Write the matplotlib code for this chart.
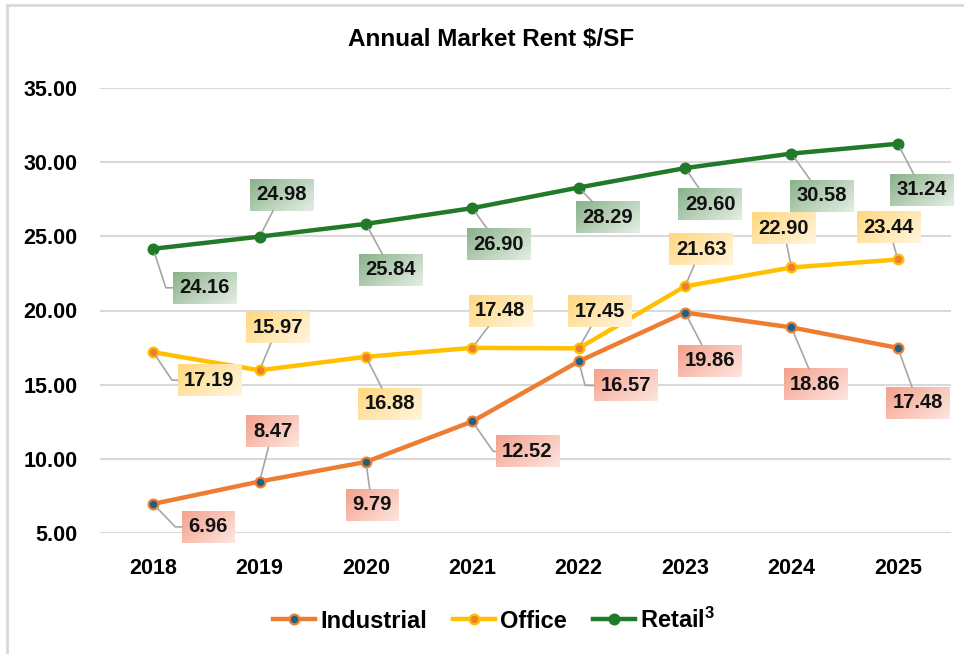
import numpy as np
import matplotlib
matplotlib.use('Agg')
import matplotlib.pyplot as plt
from matplotlib.colors import to_rgb
from matplotlib.lines import Line2D
from matplotlib.patches import Rectangle

# ---------------- data ----------------
years = ['2018', '2019', '2020', '2021', '2022', '2023', '2024', '2025']
industrial = [6.96, 8.47, 9.79, 12.52, 16.57, 19.86, 18.86, 17.48]
office = [17.19, 15.97, 16.88, 17.48, 17.45, 21.63, 22.90, 23.44]
retail = [24.16, 24.98, 25.84, 26.90, 28.29, 29.60, 30.58, 31.24]
yticks = [5, 10, 15, 20, 25, 30, 35]

# label offsets in pixels (dx right, dy down) and elbow angle (None = straight leader)
ind_off = [(55, 23, -46), (13, -50, None), (6, 43, None), (55, 30, -55),
           (47, 24, -75), (25, 48, None), (24, 57, None), (20, 55, None)]
off_off = [(56, 28, -56), (18, -43, None), (24, 47, None), (28, -37, None),
           (21, -37, None), (16, -37, None), (-8, -39, None), (-9, -32, None)]
ret_off = [(51, 39, -72), (22, -42, None), (25, 46, None), (26, 36, None),
           (29, 30, None), (25, 36, None), (30, 42, None), (24, 46, None)]

plt.rcParams['font.family'] = ['Liberation Sans', 'DejaVu Sans']
plt.rcParams['mathtext.default'] = 'regular'

fig = plt.figure(figsize=(9.64, 6.54), dpi=100)
ax = fig.add_axes([100 / 964, 1 - 533 / 654, 851 / 964, 445 / 654])

x = np.arange(len(years))

series = [
    ('Industrial', industrial, '#ED7D31', '#1F6083', '#ED7D31', ind_off, '#F5A08C', '#FDE6E0'),
    ('Office', office, '#FFC000', '#ED7D31', '#FFC000', off_off, '#FFD77F', '#FFF5DE'),
    ('Retail$^{3}$', retail, '#217A2A', '#217A2A', '#217A2A', ret_off, '#8AB28B', '#E4EEE4'),
]

for name, vals, lc, mfc, mec, offs, c1, c2 in series:
    ax.plot(x, vals, color=lc, lw=3.2, marker='o', ms=7, mfc=mfc, mec=mec, mew=1.6,
            zorder=3, solid_capstyle='round')

ax.set_xlim(-0.5, len(years) - 0.5)
ax.set_ylim(5, 35)
ax.set_autoscale_on(False)
ax.set_yticks(yticks)
ax.set_yticklabels(['%.2f' % v for v in yticks])
ax.set_xticks(x)
ax.set_xticklabels(years)
ax.tick_params(axis='both', length=0, labelsize=15.5)
ax.tick_params(axis='y', pad=16)
ax.tick_params(axis='x', pad=18)
for lab in ax.get_xticklabels() + ax.get_yticklabels():
    lab.set_fontweight('bold')
ax.grid(axis='y', color='#D9D9D9', lw=1.5)
ax.set_axisbelow(True)
for s in ax.spines.values():
    s.set_visible(False)

# data labels
anns = []
for name, vals, lc, mfc, mec, offs, c1, c2 in series:
    for i, v in enumerate(vals):
        dx, dy, ang = offs[i]
        if ang is None:
            cs = 'arc3'
        else:
            cs = 'angle,angleA=0,angleB=%d,rad=0' % ang
        a = ax.annotate('%.2f' % v, xy=(x[i], v), xytext=(dx, -dy), textcoords='offset pixels',
                        ha='center', va='center', fontsize=14.5, fontweight='bold', color='#111111',
                        zorder=6,
                        bbox=dict(boxstyle='square,pad=0.32', fc='none', ec='none'),
                        arrowprops=dict(arrowstyle='-', color='#A6A6A6', lw=1.2,
                                        connectionstyle=cs, shrinkA=0, shrinkB=4))
        anns.append((a, c1, c2))

# title
fig.text(491 / 964, 1 - 40 / 654, 'Annual Market Rent $/SF', ha='center', va='center',
         fontsize=17.5, fontweight='bold')

# legend
handles = [Line2D([], [], color=lc, lw=3.2, marker='o', ms=7, mfc=mfc, mec=mec, mew=1.6)
           for name, vals, lc, mfc, mec, offs, c1, c2 in series]
fig.legend(handles, [s[0] for s in series], loc='center', bbox_to_anchor=(494 / 964, 1 - 620 / 654),
           ncol=3, frameon=False, prop=dict(size=17, weight='bold'), handlelength=1.8,
           handletextpad=0.2, columnspacing=1.1)

# chart border
fig.patches.append(Rectangle((7 / 964, -0.1), 1.2, 1 - 5 / 654 + 0.1, transform=fig.transFigure,
                             fill=False, ec='#D9D9D9', lw=2))

# gradient fills behind the label boxes
fig.canvas.draw()
r = fig.canvas.get_renderer()
inv = ax.transData.inverted()
gx, gy = np.meshgrid(np.linspace(0, 1, 60), np.linspace(0, 1, 30))
t = (gx * 0.6 + gy * 0.4)
for a, c1, c2 in anns:
    bb = a.get_bbox_patch().get_window_extent(r)
    (x0, y0) = inv.transform((bb.x0, bb.y0))
    (x1, y1) = inv.transform((bb.x1, bb.y1))
    c1a, c2a = np.array(to_rgb(c1)), np.array(to_rgb(c2))
    img = c1a[None, None, :] * (1 - t[..., None]) + c2a[None, None, :] * t[..., None]
    ax.imshow(img, extent=(x0, x1, y0, y1), origin='upper', aspect='auto', zorder=5,
              clip_on=False, interpolation='bilinear')

ax.set_xlim(-0.5, len(years) - 0.5)
ax.set_ylim(5, 35)

fig.savefig('out.png', dpi=100)
